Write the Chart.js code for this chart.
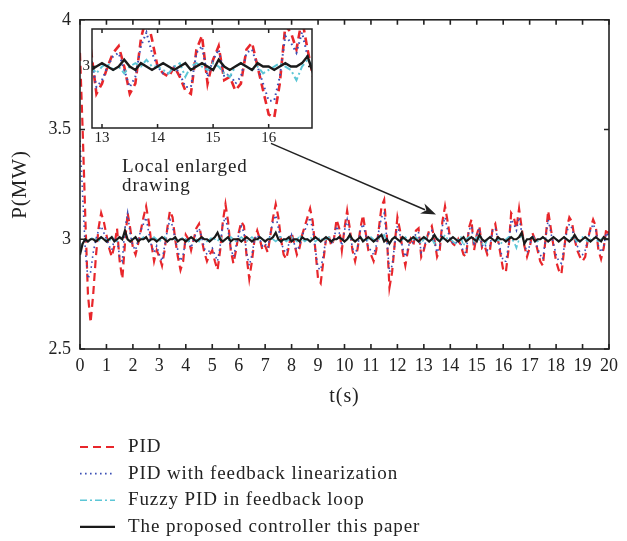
<!DOCTYPE html>
<html><head><meta charset="utf-8">
<script src="https://cdn.jsdelivr.net/npm/chart.js@4.4.1/dist/chart.umd.min.js"></script>
<style>
html,body{margin:0;padding:0;background:#fff;}
#wrap{position:relative;width:627px;height:541px;}
#main{position:absolute;left:0;top:0;}
#inset{position:absolute;left:80px;top:18px;}
</style></head><body>
<div id="wrap">
<canvas id="main" width="627" height="541"></canvas>
<canvas id="inset" width="240" height="130"></canvas>
</div>
<script>
// ---- data (sampled every 0.1 s, t = 0 ... 20 s) ----
const SERIES_NAMES = ["PID", "PID with feedback linearization", "Fuzzy PID in feedback loop", "The proposed controller this paper"];
const X_LABEL = "t(s)";
const Y_LABEL = "P(MW)";
const NOTE_LINES = ["Local enlarged", "drawing"];
const X_TICKS = [0,1,2,3,4,5,6,7,8,9,10,11,12,13,14,15,16,17,18,19,20];
const Y_TICKS = [2.5, 3, 3.5, 4];
const INSET_X_TICKS = [13, 14, 15, 16];
const INSET_Y_TICKS = [3];

const PID = [
3.85,3.50,3.10,2.75,2.62,2.75,2.92,3.05,3.12,3.08,
3.02,2.96,2.92,2.97,3.05,2.90,2.82,2.98,3.12,3.05,
2.96,2.93,2.98,3.04,3.10,3.15,3.08,2.98,2.90,2.95,
2.92,2.88,2.95,3.05,3.13,3.10,3.00,2.92,2.86,2.90,
3.02,3.00,2.95,3.00,3.05,3.07,3.00,2.94,2.90,2.93,
2.95,2.90,2.86,2.95,3.08,3.16,3.08,2.95,2.89,2.95,
3.03,3.08,3.06,2.92,2.82,2.90,3.00,3.04,3.00,2.95,
2.97,2.94,3.02,3.10,3.16,3.10,3.00,2.93,2.91,2.97,
3.03,2.98,2.93,2.96,3.02,3.06,3.10,3.14,3.08,2.95,
2.82,2.80,2.90,3.00,3.02,2.97,3.00,3.09,3.05,2.95,
3.05,3.13,3.05,2.95,2.90,2.96,3.05,3.11,3.03,2.95,
2.93,2.90,2.95,3.05,3.15,3.18,3.02,2.78,2.85,2.98,
3.10,3.04,2.94,2.88,2.95,3.00,2.97,3.04,3.05,2.92,
2.95,3.00,3.04,3.06,3.00,2.92,2.95,3.08,3.15,3.08,
3.00,2.98,2.97,3.00,2.97,2.93,2.92,3.05,3.09,2.95,
3.02,3.06,2.96,2.97,2.93,2.95,3.05,3.07,3.00,2.93,
2.86,2.85,2.95,3.12,3.10,3.05,3.14,3.05,2.97,2.92,
2.96,3.03,3.00,2.95,2.90,2.88,3.00,3.13,3.05,2.97,
2.90,2.86,2.84,2.95,3.05,3.10,3.08,3.00,2.95,2.92,
2.90,2.92,3.00,3.05,3.09,3.06,2.95,2.91,2.96,3.05,
3.02];

const PID_FL = [
3.45,3.20,2.95,2.82,2.85,2.94,3.00,3.04,3.06,3.03,
3.00,2.97,2.95,3.00,3.00,2.92,2.90,3.05,3.12,3.02,
2.97,2.95,3.00,3.04,3.07,3.10,3.03,2.97,2.94,2.97,
2.93,2.90,2.97,3.04,3.09,3.06,3.00,2.95,2.90,2.93,
3.00,3.00,2.96,3.00,3.03,3.05,3.01,2.96,2.93,2.95,
2.96,2.93,2.90,2.97,3.07,3.10,3.04,2.96,2.92,2.97,
3.02,3.06,3.03,2.94,2.88,2.93,3.00,3.02,3.00,2.97,
2.98,2.96,3.03,3.08,3.11,3.05,2.99,2.95,2.94,2.98,
3.02,2.98,2.95,2.97,3.02,3.04,3.07,3.10,3.04,2.95,
2.87,2.86,2.93,3.00,3.01,2.98,3.00,3.06,3.03,2.97,
3.04,3.09,3.03,2.96,2.93,2.97,3.04,3.07,3.02,2.96,
2.95,2.93,2.97,3.04,3.10,3.12,3.00,2.85,2.88,2.98,
3.06,3.02,2.96,2.92,2.96,3.00,2.98,3.03,3.03,2.94,
2.96,3.00,3.03,3.04,2.99,2.94,2.97,3.06,3.10,3.04,
3.00,2.98,2.98,3.00,2.98,2.94,2.94,3.04,3.06,2.97,
3.02,3.05,2.97,2.98,2.95,2.97,3.04,3.05,3.00,2.95,
2.90,2.90,2.97,3.09,3.07,3.04,3.10,3.03,2.98,2.94,
2.97,3.02,3.00,2.96,2.93,2.91,3.00,3.09,3.03,2.98,
2.93,2.90,2.89,2.96,3.03,3.07,3.05,3.00,2.97,2.94,
2.93,2.95,3.00,3.04,3.07,3.04,2.97,2.94,2.97,3.03,
3.01];

const FUZZY_PID = [
2.95,2.99,3.00,2.99,3.00,3.01,3.00,2.99,3.01,3.00,
3.00,2.99,3.01,3.00,2.99,3.00,3.01,3.02,3.00,2.99,
3.00,3.01,2.99,3.00,3.01,3.00,2.99,3.00,3.01,3.00,
2.99,3.00,3.01,2.99,3.00,3.01,3.00,2.99,3.00,3.01,
3.00,2.99,3.01,3.00,3.00,2.99,3.01,3.00,2.99,3.00,
3.01,3.00,2.99,3.01,3.00,3.00,2.99,3.01,3.00,2.99,
3.00,3.01,3.00,2.99,3.00,3.01,3.00,2.99,3.01,3.00,
2.99,3.00,3.01,3.00,2.99,3.00,3.01,3.00,2.99,3.00,
3.01,3.00,2.99,3.02,3.00,2.99,3.00,3.01,3.00,2.99,
3.00,3.01,2.99,3.00,3.01,3.00,2.99,3.00,3.01,3.00,
2.99,3.00,3.01,3.00,2.99,3.00,3.01,3.00,2.99,3.00,
3.01,3.00,2.99,3.00,3.01,3.02,2.99,2.98,3.00,3.01,
3.00,2.99,3.00,3.01,3.00,2.99,3.00,3.01,3.00,2.98,
3.00,3.01,2.99,3.00,2.98,3.00,3.01,3.00,3.02,3.00,
3.00,2.99,2.98,3.00,3.01,2.97,3.00,3.01,3.00,2.99,
3.01,3.00,2.98,2.97,3.00,3.01,3.00,2.99,3.00,2.98,
2.99,3.00,3.01,3.00,2.99,2.96,3.00,3.02,3.00,2.99,
3.00,3.01,3.00,2.99,3.00,3.01,3.00,2.99,3.00,3.01,
3.00,2.99,3.00,3.01,3.00,2.99,3.01,3.00,2.99,3.00,
3.01,3.00,2.99,3.00,3.01,3.00,2.99,3.00,3.01,3.00,
3.00];

const PROPOSED = [
2.93,2.98,3.00,2.99,3.00,3.00,2.99,3.00,3.01,3.00,
2.99,3.00,3.01,2.99,3.00,3.01,3.00,3.04,3.00,2.99,
3.00,3.01,2.99,3.00,3.00,3.01,2.99,3.00,3.00,2.99,
3.00,3.01,3.00,2.99,3.00,3.00,3.01,2.99,3.00,3.00,
2.99,3.00,3.01,3.00,2.99,3.00,3.01,3.00,3.00,2.99,
3.00,3.01,3.03,3.00,2.99,3.00,3.01,2.99,3.00,3.00,
3.00,2.99,3.00,3.01,3.00,2.99,3.00,3.00,3.01,3.00,
2.99,3.00,3.00,3.01,3.03,3.00,2.99,3.00,3.00,3.01,
2.99,3.00,3.00,2.99,3.01,3.00,3.00,2.99,3.00,3.01,
3.00,2.99,3.00,3.01,3.00,2.99,3.00,3.00,3.01,3.00,
2.99,3.00,3.02,3.00,2.99,3.00,3.01,2.99,3.00,3.01,
3.00,2.99,3.00,3.01,3.02,2.99,3.00,2.98,3.00,3.01,
3.00,2.99,3.01,3.00,2.99,3.00,3.01,3.00,2.99,3.00,
3.01,3.00,2.99,3.00,3.02,3.00,2.99,3.01,3.00,2.99,
3.00,3.01,3.00,2.99,3.00,3.01,2.99,3.00,3.01,3.00,
2.99,3.02,3.00,2.99,3.00,3.01,3.00,2.99,3.01,3.00,
3.00,2.99,3.00,3.01,3.00,3.00,3.01,3.03,2.98,3.00,
3.00,3.01,2.99,3.00,3.00,3.01,3.00,2.99,3.00,3.01,
3.00,2.99,3.00,3.01,3.00,2.99,3.00,3.02,3.00,2.99,
3.00,3.01,3.00,2.99,3.00,3.01,3.00,2.99,3.01,3.00,
3.00];

const SAMPLE_STEP = 0.1;
const TIME = PID.map((_, i) => +(i * SAMPLE_STEP).toFixed(1));

// ---- styles ----
const FONT = '"Liberation Serif", "Times New Roman", serif';
const INK = '#222222';
const STYLES = [
  {color:'#e8262b', width:2.2, dash:[8,5], insetWidth:2.6, order:3},
  {color:'#3b4fb5', width:1.6, dash:[1.6,3.4], insetWidth:2.0, order:2},
  {color:'#5cc6d6', width:1.6, dash:[7,3,2,3], insetWidth:2.0, order:1},
  {color:'#1a1a1a', width:2.2, dash:[], insetWidth:2.4, order:0}
];
const VALUES = [PID, PID_FL, FUZZY_PID, PROPOSED];

function makeDatasets(inset) {
  return VALUES.map((vals, k) => ({
    label: SERIES_NAMES[k],
    data: vals.map((v, i) => ({x: TIME[i], y: v})),
    borderColor: STYLES[k].color,
    borderWidth: inset ? STYLES[k].insetWidth : STYLES[k].width,
    borderDash: STYLES[k].dash,
    pointRadius: 0,
    fill: false,
    tension: 0,
    order: STYLES[k].order
  }));
}

// annotation anchors in data units
const NOTE_AT = {x: 1.59, y: 3.33};
const ARROW_FROM = {x: 7.22, y: 3.437};
const ARROW_TO = {x: 13.46, y: 3.113};

function drawFrame(chart, tickLen, xTicks, yTicks, lw) {
  const {ctx, chartArea: a, scales} = chart;
  ctx.save();
  ctx.strokeStyle = INK;
  ctx.lineWidth = lw;
  ctx.setLineDash([]);
  ctx.strokeRect(a.left, a.top, a.right - a.left, a.bottom - a.top);
  ctx.beginPath();
  xTicks.forEach(v => {
    const p = scales.x.getPixelForValue(v);
    ctx.moveTo(p, a.bottom); ctx.lineTo(p, a.bottom - tickLen);
    ctx.moveTo(p, a.top); ctx.lineTo(p, a.top + tickLen);
  });
  yTicks.forEach(v => {
    const p = scales.y.getPixelForValue(v);
    ctx.moveTo(a.left, p); ctx.lineTo(a.left + tickLen, p);
    ctx.moveTo(a.right, p); ctx.lineTo(a.right - tickLen, p);
  });
  ctx.stroke();
  ctx.restore();
}

const mainDecor = {
  id: 'mainDecor',
  afterDraw(chart) {
    const {ctx, chartArea: a, scales} = chart;
    drawFrame(chart, 5, X_TICKS, Y_TICKS, 1.6);
    ctx.save();
    ctx.fillStyle = INK;
    ctx.letterSpacing = '0.9px';
    // axis titles
    ctx.font = '20px ' + FONT;
    ctx.textAlign = 'center'; ctx.textBaseline = 'middle';
    ctx.fillText(X_LABEL, (a.left + a.right) / 2, 397);
    ctx.save();
    ctx.translate(20, (a.top + a.bottom) / 2);
    ctx.rotate(-Math.PI / 2);
    ctx.font = '21px ' + FONT;
    ctx.fillText(Y_LABEL, 0, 0);
    ctx.restore();
    // note
    ctx.font = '19px ' + FONT;
    ctx.textAlign = 'left';
    const nx = scales.x.getPixelForValue(NOTE_AT.x), ny = scales.y.getPixelForValue(NOTE_AT.y);
    NOTE_LINES.forEach((s, i) => ctx.fillText(s, nx, ny + i * 19));
    // arrow
    const x1 = scales.x.getPixelForValue(ARROW_FROM.x), y1 = scales.y.getPixelForValue(ARROW_FROM.y);
    const x2 = scales.x.getPixelForValue(ARROW_TO.x), y2 = scales.y.getPixelForValue(ARROW_TO.y);
    const ang = Math.atan2(y2 - y1, x2 - x1), L = 15, W = 5.5;
    ctx.strokeStyle = INK; ctx.lineWidth = 1.5; ctx.setLineDash([]);
    ctx.beginPath(); ctx.moveTo(x1, y1);
    ctx.lineTo(x2 - Math.cos(ang) * L * 0.8, y2 - Math.sin(ang) * L * 0.8); ctx.stroke();
    ctx.beginPath();
    ctx.moveTo(x2, y2);
    ctx.lineTo(x2 - Math.cos(ang) * L - Math.sin(ang) * W, y2 - Math.sin(ang) * L + Math.cos(ang) * W);
    ctx.lineTo(x2 - Math.cos(ang) * L * 0.7, y2 - Math.sin(ang) * L * 0.7);
    ctx.lineTo(x2 - Math.cos(ang) * L + Math.sin(ang) * W, y2 - Math.sin(ang) * L - Math.cos(ang) * W);
    ctx.closePath(); ctx.fill();
    // legend
    ctx.font = '19px ' + FONT;
    ctx.textBaseline = 'middle';
    chart.data.datasets.forEach((ds, i) => {
      const y = 447 + i * 26.6;
      ctx.strokeStyle = ds.borderColor;
      ctx.lineWidth = ds.borderWidth;
      ctx.setLineDash(ds.borderDash || []);
      ctx.beginPath(); ctx.moveTo(80, y); ctx.lineTo(115, y); ctx.stroke();
      ctx.setLineDash([]);
      ctx.fillStyle = INK;
      ctx.fillText(ds.label, 128, y);
    });
    ctx.restore();
  }
};

const insetDecor = {
  id: 'insetDecor',
  beforeDatasetsDraw(chart) {
    const {ctx, chartArea: a} = chart;
    ctx.save(); ctx.fillStyle = '#fff';
    ctx.fillRect(a.left, a.top, a.right - a.left, a.bottom - a.top);
    ctx.restore();
  },
  afterDraw(chart) { drawFrame(chart, 4, INSET_X_TICKS, INSET_Y_TICKS, 1.5); }
};

const plainLabel = v => String(+(+v).toFixed(2));

new Chart(document.getElementById('main'), {
  type: 'line',
  data: {datasets: makeDatasets(false)},
  options: {
    responsive: false, animation: false, devicePixelRatio: 1,
    layout: {padding: {left: 0, right: 18, top: 16, bottom: 0}},
    plugins: {legend: {display: false}, tooltip: {enabled: false}},
    scales: {
      x: {type: 'linear', min: 0, max: 20,
          afterBuildTicks(s) { s.ticks = X_TICKS.map(v => ({value: v})); },
          ticks: {font: {family: FONT, size: 18}, color: INK, padding: 6, maxRotation: 0, autoSkip: false, callback: plainLabel},
          grid: {display: false, drawTicks: false}, border: {display: false},
          afterFit(s) { s.height = 192; }},
      y: {min: 2.5, max: 4,
          afterBuildTicks(s) { s.ticks = Y_TICKS.map(v => ({value: v})); },
          ticks: {font: {family: FONT, size: 18}, color: INK, padding: 9, callback: plainLabel},
          grid: {display: false, drawTicks: false}, border: {display: false},
          afterFit(s) { s.width = 80; }}
    }
  },
  plugins: [mainDecor]
});

new Chart(document.getElementById('inset'), {
  type: 'line',
  data: {datasets: makeDatasets(true)},
  options: {
    responsive: false, animation: false, devicePixelRatio: 1,
    layout: {padding: {left: 0, right: 8, top: 7, bottom: 0}},
    plugins: {legend: {display: false}, tooltip: {enabled: false}},
    scales: {
      x: {type: 'linear', min: 12.82, max: 16.78,
          afterBuildTicks(s) { s.ticks = INSET_X_TICKS.map(v => ({value: v})); },
          ticks: {font: {family: FONT, size: 15}, color: INK, padding: 1, maxRotation: 0, autoSkip: false, callback: plainLabel},
          grid: {display: false, drawTicks: false}, border: {display: false},
          afterFit(s) { s.height = 20; }},
      y: {min: 2.82, max: 3.11,
          afterBuildTicks(s) { s.ticks = INSET_Y_TICKS.map(v => ({value: v})); },
          ticks: {font: {family: FONT, size: 15}, color: INK, padding: 2, callback: plainLabel},
          grid: {display: false, drawTicks: false}, border: {display: false},
          afterFit(s) { s.width = 12; }}
    }
  },
  plugins: [insetDecor]
});
</script>
</body></html>
